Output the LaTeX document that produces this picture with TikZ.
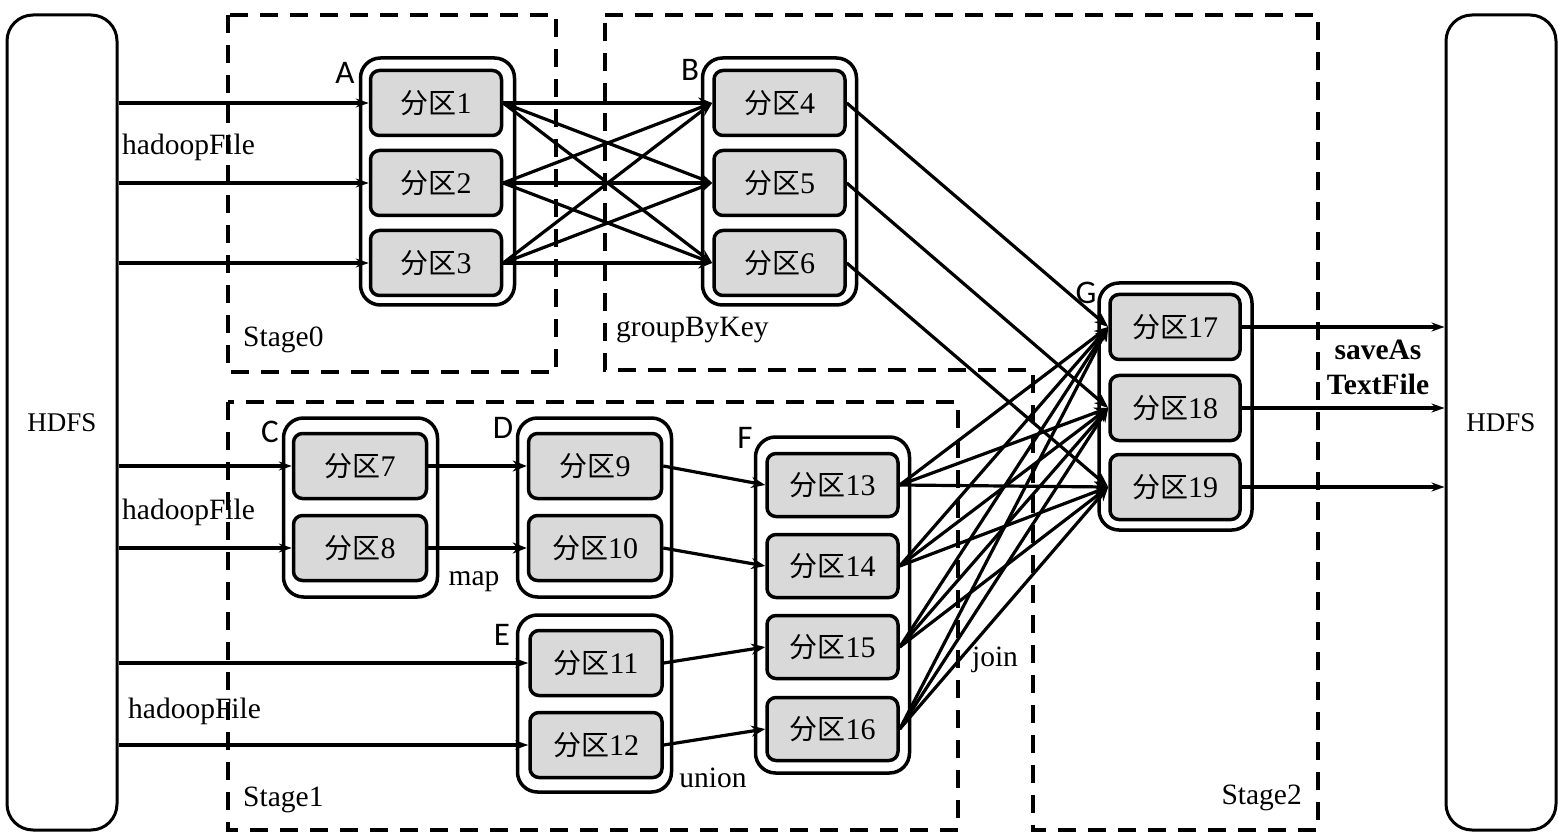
\documentclass[tikz,border=0pt]{standalone}
\usepackage{fontspec}
\setmainfont{Liberation Serif}
\newfontfamily\cjk{Noto Sans CJK SC}
\newfontfamily\lett{Carlito}
\usetikzlibrary{arrows.meta}
\newcommand\fq[1]{{\cjk\fontsize{28}{30}\selectfont 分区}#1}
\begin{document}
\begin{tikzpicture}[x=1pt,y=-1pt,
  txt/.style={font=\fontsize{29.5}{32}\selectfont, inner sep=0pt},
  part/.style={draw, line width=3.5pt, fill=black!15, rounded corners=9pt,
    minimum width=131pt, minimum height=65pt, inner sep=0pt,
    font=\fontsize{30}{32}\selectfont},
  outer/.style={draw, line width=3.5pt, fill=white, rounded corners=20pt,
    minimum width=154pt, inner sep=0pt},
  hdfs/.style={draw, line width=3pt, rounded corners=26pt, minimum width=110pt,
    minimum height=815pt, inner sep=0pt, font=\fontsize{27}{30}\selectfont},
  stagebox/.style={line width=4pt, dash pattern=on 18pt off 12pt},
  arr/.style={line width=3.2pt, -{Stealth[length=14pt, width=11pt]}},
  inarr/.style={line width=3.2pt, -{Stealth[length=13pt, width=9pt]}},
  letter/.style={font=\lett\fontsize{33}{34}\selectfont, inner sep=0pt}
]
\useasboundingbox (0,0) rectangle (1559,834);
% stage boxes
\draw[stagebox] (228,15) rectangle (556,372);
\draw[stagebox] (605,15) -- (1318,15) -- (1318,830) -- (1033,830) -- (1033,370) -- (605,370) -- cycle;
\draw[stagebox] (228,402) rectangle (958,830);
% HDFS
\node[hdfs] (hl) at (62,422.5) {HDFS};
\node[hdfs] (hr) at (1501,422.5) {HDFS};
% outer groups
\node[outer, minimum height=247pt] (A) at (437.5,181.5) {};
\node[outer, minimum height=247pt] (B) at (779.5,181.5) {};
\node[outer, minimum height=179pt] (C) at (360.5,507.5) {};
\node[outer, minimum height=179pt] (D) at (594.5,507.5) {};
\node[outer, minimum height=177pt] (E) at (594.5,703.5) {};
\node[outer, minimum height=336pt] (F) at (832.5,605) {};
\node[outer, minimum height=247pt, minimum width=153pt] (G) at (1175.5,406.5) {};
% letters
\node[letter] (lA) at (345,73) {A};
\node[letter] (lB) at (690,70) {B};
\node[letter] (lC) at (270,432) {C};
\node[letter] (lD) at (503,428) {D};
\node[letter] (lE) at (502,635) {E};
\node[letter] (lF) at (745,438) {F};
\node[letter] (lG) at (1086,293) {G};
% partitions
\node[part] (p1) at (436,103) {\fq{1}};
\node[part] (p2) at (436,183) {\fq{2}};
\node[part] (p3) at (436,263) {\fq{3}};
\node[part] (p4) at (779.5,103) {\fq{4}};
\node[part] (p5) at (779.5,183) {\fq{5}};
\node[part] (p6) at (779.5,263) {\fq{6}};
\node[part, minimum width=133pt] (p7) at (360,466) {\fq{7}};
\node[part, minimum width=133pt] (p8) at (360,548) {\fq{8}};
\node[part, minimum width=133pt] (p9) at (595,466) {\fq{9}};
\node[part, minimum width=133pt] (p10) at (595,548) {\fq{10}};
\node[part, minimum width=132pt] (p11) at (596,663) {\fq{11}};
\node[part, minimum width=132pt] (p12) at (596,745) {\fq{12}};
\node[part, minimum height=63pt] (p13) at (832.5,485) {\fq{13}};
\node[part, minimum height=63pt] (p14) at (832.5,566) {\fq{14}};
\node[part, minimum height=63pt] (p15) at (832.5,647) {\fq{15}};
\node[part, minimum height=63pt] (p16) at (832.5,729) {\fq{16}};
\node[part, minimum width=130pt] (p17) at (1175,327) {\fq{17}};
\node[part, minimum width=130pt] (p18) at (1175,408) {\fq{18}};
\node[part, minimum width=130pt] (p19) at (1175,487) {\fq{19}};
% input arrows
\foreach \p in {p1,p2,p3,p7,p8,p11,p12}
  \draw[inarr] (hl.east |- \p) -- (\p.west);
% A -> B
\foreach \s in {p1,p2,p3}
  \foreach \t in {p4,p5,p6}
    \draw[arr] (\s.east) -- (\t.west);
% B -> G
\draw[arr] (p4.east) -- (p17.west);
\draw[arr] (p5.east) -- (p18.west);
\draw[arr] (p6.east) -- (p19.west);
% C -> D, D/E -> F
\draw[arr] (p7.east) -- (p9.west);
\draw[arr] (p8.east) -- (p10.west);
\draw[arr] (p9.east) -- (p13.west);
\draw[arr] (p10.east) -- (p14.west);
\draw[arr] (p11.east) -- (p15.west);
\draw[arr] (p12.east) -- (p16.west);
% F -> G
\foreach \s in {p13,p14,p15,p16}
  \foreach \t in {p17,p18,p19}
    \draw[arr] (\s.east) -- (\t.west);
% outputs
\foreach \p in {p17,p18,p19}
  \draw[inarr] (\p.east) -- (hr.west |- \p);
% labels
\node[txt, anchor=west] (h1) at (122,147) {hadoopFile};
\node[txt, anchor=west] (h2) at (122,512) {hadoopFile};
\node[txt, anchor=west] (h3) at (128,711) {hadoopFile};
\node[txt, anchor=west] (s0) at (243,340) {Stage0};
\node[txt, anchor=west] (gk) at (616,330) {groupByKey};
\node[txt, anchor=west] (s1) at (243,800) {Stage1};
\node[txt, anchor=east] (s2) at (1302,798) {Stage2};
\node[txt] (mp) at (474,582) {map};
\node[txt] (un) at (713,778) {union};
\node[txt] (jn) at (995,660) {join};
\node[txt, font=\bfseries\fontsize{29.5}{32}\selectfont] (sa) at (1378,350) {saveAs};
\node[txt, font=\bfseries\fontsize{29.5}{32}\selectfont] (tf) at (1378,384) {TextFile};
\end{tikzpicture}
\end{document}
